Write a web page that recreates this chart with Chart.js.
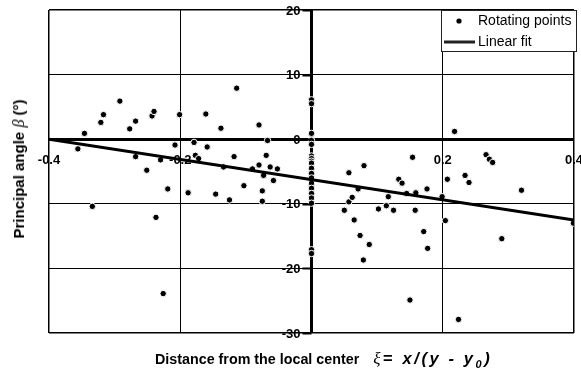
<!DOCTYPE html>
<html>
<head>
<meta charset="utf-8">
<script src="https://cdn.jsdelivr.net/npm/chart.js@4"></script>
<style>
  body { margin: 0; background: #fff; }
  #wrap { position: relative; width: 581px; height: 375px; }
  #xtitle {
    position: absolute; left: 155px; top: 349px;
    font: bold 14.3px "Liberation Sans", Arial, sans-serif; color: #000; white-space: nowrap;
  }
  #xtitle .f { font-size: 16.5px; letter-spacing: 2.6px; margin-left: 14px; }
  #xtitle .xi { font: italic 17px "Liberation Serif", serif; }
  #xtitle sub { font-size: 11px; }
  #ytitle {
    position: absolute; left: 19px; top: 169px; transform: translate(-50%, -50%) rotate(-90deg);
    font: bold 15px "Liberation Sans", Arial, sans-serif; color: #000; white-space: nowrap;
  }
  #ytitle .beta { font: italic 16px "Liberation Serif", serif; }
</style>
</head>
<body>
<div id="wrap">
  <canvas id="chart"></canvas>
  <div id="ytitle">Principal angle <span class="beta">β</span> (°)</div>
  <div id="xtitle">Distance from the local center<span class="f"><span class="xi">ξ</span>= <i>x/(y&nbsp;-&nbsp;y<sub>0</sub>)</i></span></div>
</div>
<script>
// Data
const pointX = [
  -0.356, -0.346, -0.334, -0.321, -0.317, -0.292, -0.277, -0.268, -0.268, -0.251,
  -0.243, -0.240, -0.237, -0.230, -0.226, -0.219, -0.208, -0.201, -0.188, -0.179,
  -0.177, -0.172, -0.161, -0.159, -0.146, -0.138, -0.134, -0.125, -0.118, -0.114,
  -0.103, -0.090, -0.080, -0.080, -0.075, -0.075, -0.073, -0.069, -0.067, -0.063,
  -0.058, -0.052,
  0, 0, 0, 0, 0, 0, 0, 0, 0, 0, 0, 0, 0, 0, 0, 0, 0, 0, 0,
  0.050, 0.057, 0.057, 0.062, 0.065, 0.071, 0.074, 0.079, 0.080, 0.088,
  0.102, 0.114, 0.117, 0.125, 0.133, 0.138, 0.145, 0.150, 0.154, 0.158,
  0.159, 0.171, 0.176, 0.177, 0.199, 0.204, 0.207, 0.218, 0.224, 0.234,
  0.240, 0.266, 0.271, 0.276, 0.290, 0.320, 0.399
];
const pointY = [
  -1.5, 0.9, -10.4, 2.6, 3.8, 5.9, 1.6, 2.8, -2.7, -4.8,
  3.6, 4.3, -12.1, -3.2, -23.9, -7.7, -0.9, 3.8, -8.3, -0.5,
  -2.5, -3.0, 3.9, -1.2, -8.5, 1.7, -4.3, -9.4, -2.7, 7.9,
  -7.2, -4.6, 2.2, -4.0, -8.0, -9.6, -5.6, -2.5, -0.2, -4.3,
  -6.4, -4.6,
  6.1, 5.5, 0.9, -0.2, -0.8, -2.6, -3.0, -3.4, -3.7, -4.5, -5.3, -6.0, -6.8, -7.6, -8.4, -9.1, -9.9, -17.1, -17.7,
  -11.0, -5.2, -9.7, -9.0, -12.5, -7.7, -14.9, -18.7, -4.1, -16.3,
  -10.8, -10.3, -8.9, -11.0, -6.2, -6.8, -8.4, -24.9, -2.8, -11.0,
  -8.3, -14.3, -7.7, -16.9, -8.9, -12.6, -6.2, 1.2, -27.9, -5.6,
  -6.7, -2.4, -3.1, -3.6, -15.4, -7.9, -13.0
];
const fitX = [-0.4, 0.4];
const fitY = [0, -12.5];
const xTicks = [-0.4, -0.2, 0.2, 0.4];
const yTicks = [20, 10, 0, -10, -20, -30];
const seriesNames = ['Rotating points', 'Linear fit'];

const FONT = '"Liberation Sans", Arial, sans-serif';

// tick labels sit on the zero axes, drawn under the grid lines
const axisLabels = {
  id: 'axisLabels',
  beforeDraw(chart) {
    const { ctx, scales: { x, y } } = chart;
    const x0 = x.getPixelForValue(0);
    const y0 = y.getPixelForValue(0);
    ctx.save();
    ctx.fillStyle = '#000';
    ctx.font = 'bold 13px ' + FONT;
    ctx.textBaseline = 'middle';
    ctx.textAlign = 'center';
    xTicks.forEach(v => {
      ctx.fillText(String(v), x.getPixelForValue(v), y0 + 21);
    });
    ctx.textAlign = 'right';
    yTicks.forEach(v => {
      ctx.fillText(String(v), x0 - 11, y.getPixelForValue(v) + 1);
    });
    ctx.restore();
  },
  afterDatasetsDraw(chart) {
    const { ctx, scales: { x, y } } = chart;
    const x0 = x.getPixelForValue(0);
    ctx.save();
    ctx.strokeStyle = '#000';
    ctx.lineWidth = 2;
    yTicks.forEach(v => {
      const py = Math.round(y.getPixelForValue(v)) + 0.5;
      ctx.beginPath();
      ctx.moveTo(x0 - 9, py);
      ctx.lineTo(x0, py);
      ctx.stroke();
    });
    ctx.restore();
  }
};

// boxed legend in the top right corner
const boxLegend = {
  id: 'boxLegend',
  afterDraw(chart) {
    const { ctx } = chart;
    const left = 441.5, top = 10.5, w = 135, h = 41;
    ctx.save();
    ctx.fillStyle = '#fff';
    ctx.fillRect(left, top, w, h);
    ctx.strokeStyle = '#222';
    ctx.lineWidth = 1;
    ctx.strokeRect(left, top, w, h);
    ctx.fillStyle = '#000';
    ctx.beginPath();
    ctx.arc(459, 21, 2.6, 0, Math.PI * 2);
    ctx.fill();
    ctx.lineWidth = 3;
    ctx.beginPath();
    ctx.moveTo(444, 42);
    ctx.lineTo(475, 42);
    ctx.stroke();
    ctx.font = '14px ' + FONT;
    ctx.textBaseline = 'middle';
    ctx.textAlign = 'left';
    ctx.fillText(seriesNames[0], 478, 21);
    ctx.fillText(seriesNames[1], 478, 42);
    ctx.restore();
  }
};

const edgeWidth = (ctx, lo, hi) => {
  const v = ctx.tick.value;
  if (v === 0) return 3;
  if (v === lo || v === hi) return 1.5;
  return 1;
};

new Chart(document.getElementById('chart'), {
  type: 'scatter',
  data: {
    datasets: [
      {
        label: seriesNames[1],
        type: 'line',
        data: fitX.map((v, i) => ({ x: v, y: fitY[i] })),
        borderColor: '#000',
        borderWidth: 3,
        pointRadius: 0,
        fill: false,
        order: 0
      },
      {
        label: seriesNames[0],
        data: pointX.map((v, i) => ({ x: v, y: pointY[i] })),
        backgroundColor: '#000',
        borderColor: '#fff',
        borderWidth: 1,
        pointRadius: 3.2,
        order: 1
      }
    ]
  },
  options: {
    responsive: true,
    maintainAspectRatio: false,
    animation: false,
    layout: { padding: { left: 49, right: 7, top: 10, bottom: 42 } },
    plugins: { legend: { display: false }, tooltip: { enabled: false } },
    scales: {
      x: {
        type: 'linear', min: -0.4, max: 0.4,
        ticks: { display: false, stepSize: 0.2 },
        grid: { color: '#000', drawTicks: false, lineWidth: c => edgeWidth(c, -0.4, 0.4) },
        border: { display: false }
      },
      y: {
        type: 'linear', min: -30, max: 20,
        ticks: { display: false, stepSize: 10 },
        grid: { color: '#000', drawTicks: false, lineWidth: c => edgeWidth(c, -30, 20) },
        border: { display: false }
      }
    }
  },
  plugins: [axisLabels, boxLegend]
});
</script>
</body>
</html>
